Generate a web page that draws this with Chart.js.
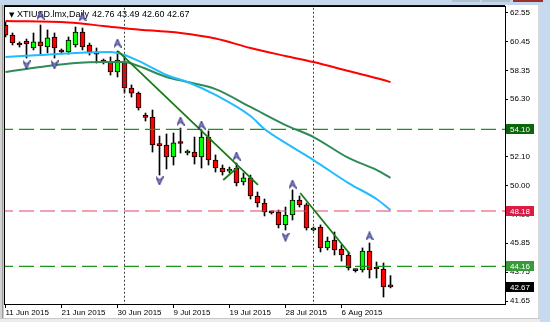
<!DOCTYPE html>
<html>
<head>
<meta charset="utf-8">
<script src="https://cdn.jsdelivr.net/npm/chart.js@4.4.1/dist/chart.umd.min.js"></script>
<style>
  html, body { margin: 0; padding: 0; background: #fff; }
  #wrap { position: relative; width: 550px; height: 322px; overflow: hidden; }
  canvas { display: block; }
</style>
</head>
<body>
<div id="wrap"><canvas id="chart" width="550" height="322"></canvas></div>
<script>
// header text
const symbolName = "XTIUSD.lmx,Daily";
const lastBarText = "42.76 43.49 42.60 42.67";

// x axis: bar index of each date label
const tickBars = [0, 8, 16, 24, 32, 40, 48];
const tickDates = ["11 Jun 2015", "21 Jun 2015", "30 Jun 2015", "9 Jul 2015", "19 Jul 2015", "28 Jul 2015", "6 Aug 2015"];

// y axis labels
const priceTicks = [41.65, 43.75, 45.85, 47.90, 50.00, 52.10, 54.20, 56.30, 58.35, 60.45, 62.55];

// daily candles, one entry per bar
const opens = [61.68, 60.95, 60.37, 60.52, 60.01, 60.45, 60.08, 60.81, 59.79, 59.72,
  60.23, 61.17, 60.23, 59.65, 59.07, 58.99, 58.27, 58.99, 57.11, 56.74,
  55.00, 55.00, 52.97, 52.97, 52.10, 53.12, 52.39, 52.46, 52.10, 53.55,
  51.88, 51.30, 51.08, 51.30, 50.29, 50.58, 49.27, 48.76, 48.11, 48.11,
  47.17, 47.89, 48.98, 48.62, 46.80, 47.02, 45.50, 46.08, 45.42, 44.99,
  43.90, 43.90, 45.28, 44.05, 43.97, 42.76];
const highs = [61.90, 61.10, 60.45, 60.66, 61.10, 61.68, 61.32, 61.10, 59.94, 60.81,
  61.53, 61.46, 60.37, 60.01, 59.21, 59.36, 59.79, 59.43, 57.33, 56.82,
  55.29, 55.51, 53.62, 53.77, 53.84, 54.20, 52.61, 53.55, 54.06, 53.99,
  52.25, 51.52, 51.37, 51.66, 50.94, 50.79, 49.56, 49.05, 48.18, 48.25,
  48.47, 49.71, 49.27, 48.76, 47.02, 47.17, 46.29, 46.66, 45.71, 45.21,
  43.97, 45.50, 45.86, 44.48, 44.41, 43.49];
const lows = [60.81, 60.23, 60.08, 59.28, 59.87, 59.57, 59.65, 59.28, 59.57, 59.57,
  60.08, 59.87, 59.50, 58.92, 58.85, 58.05, 57.91, 56.74, 56.45, 55.51,
  54.71, 52.46, 50.79, 51.23, 51.52, 52.39, 52.25, 51.59, 51.30, 51.52,
  51.01, 50.79, 50.94, 50.00, 50.07, 49.05, 48.47, 47.82, 47.96, 46.95,
  46.80, 47.53, 48.47, 46.80, 46.73, 45.21, 45.35, 44.99, 44.55, 43.90,
  43.75, 43.75, 43.32, 43.32, 41.94, 42.60];
const closes = [60.95, 60.37, 60.23, 60.30, 60.45, 60.16, 60.74, 60.01, 59.72, 60.59,
  61.17, 60.08, 59.72, 59.57, 58.99, 58.27, 59.14, 57.11, 56.74, 55.66,
  54.97, 52.97, 52.93, 52.10, 53.12, 53.08, 52.43, 52.10, 53.55, 51.88,
  51.30, 51.01, 51.16, 50.21, 50.58, 49.27, 48.76, 48.11, 48.04, 47.17,
  47.89, 48.98, 48.62, 46.95, 46.95, 45.50, 46.00, 45.35, 44.99, 44.05,
  43.86, 45.28, 43.90, 43.97, 42.67, 42.67];

// moving averages, read at some bars
const redMaBars = [0, 9, 14, 18, 25, 30, 35, 40, 44, 49, 54, 55];
const redMaValues = [61.97, 61.86, 61.61, 61.39, 61.10, 60.70, 60.01, 59.43, 58.99, 58.34, 57.69, 57.54];
const blueMaBars = [0, 5, 10, 15, 17, 19, 23, 26, 30, 35, 37, 40, 44, 49, 53, 55];
const blueMaValues = [59.36, 59.50, 59.65, 59.72, 59.50, 59.07, 58.05, 57.54, 56.60, 55.07, 54.13, 53.12, 51.88, 50.21, 49.05, 48.25];
const greenMaBars = [0, 5, 10, 14, 17, 19, 23, 26, 30, 35, 40, 44, 49, 53, 55];
const greenMaValues = [58.27, 58.63, 58.92, 58.99, 58.99, 58.70, 57.91, 57.54, 57.03, 55.73, 54.42, 53.55, 52.03, 51.16, 50.58];

// trend lines: start/end bar and price
const trend1Bars = [16.07, 36.07];
const trend1Values = [59.79, 50.07];
const trend2Bars = [31.1, 33.2];
const trend2Values = [50.43, 51.37];
const trend3Bars = [42.1, 49.2];
const trend3Values = [49.49, 45.06];

// horizontal levels
const levelPrices = [54.10, 48.18, 44.16];

// month separators (first bar of Jul and Aug)
const separatorBars = [17, 44];

// fractals
const fractalUpBars = [5, 11, 16, 25, 28, 33, 41, 52];
const fractalUpPrices = [62.40, 62.26, 60.37, 54.71, 54.42, 52.17, 50.14, 46.37];
const fractalDownBars = [3, 7, 22, 40];
const fractalDownPrices = [58.78, 58.78, 50.36, 46.29];

// ---- styles ----
const levelLineColors = ["#1c941c", "#e64066", "#1c941c"];
const levelBoxColors = ["#0b650b", "#dc1a44", "#3a9a3a"];
const upColor = "#00ff00";
const downColor = "#ff0000";

const X_MIN = -0.5 / 7;
const X_MAX = X_MIN + 500 / 7;
const Y_MIN = 41.4323;
const Y_MAX = 62.9854;

Chart.defaults.font.family = '"Liberation Sans", Arial, sans-serif';
Chart.defaults.font.size = 8;
Chart.defaults.color = "#000";

function arrowImage(up) {
  const c = document.createElement("canvas");
  c.width = 8;
  c.height = 9;
  const g = c.getContext("2d");
  g.beginPath();
  if (up) {
    g.moveTo(4, 0.5); g.lineTo(7.5, 8.5); g.lineTo(4, 5.5); g.lineTo(0.5, 8.5);
  } else {
    g.moveTo(4, 8.5); g.lineTo(7.5, 0.5); g.lineTo(4, 3.5); g.lineTo(0.5, 0.5);
  }
  g.closePath();
  g.fillStyle = "#8e8edc";
  g.fill();
  g.strokeStyle = "#24246e";
  g.lineWidth = 1;
  g.stroke();
  return c;
}

const toPoints = (xs, ys) => xs.map((x, i) => ({ x: x, y: ys[i] }));
const barIdx = opens.map((_, i) => i);

const lineSet = (data, color, width, extra) => Object.assign({
  type: "line",
  data: data,
  borderColor: color,
  borderWidth: width,
  pointRadius: 0,
  fill: false
}, extra || {});

const datasets = [
  {
    type: "scatter",
    data: toPoints(fractalUpBars, fractalUpPrices),
    pointStyle: arrowImage(true),
    pointRadius: 4
  },
  {
    type: "scatter",
    data: toPoints(fractalDownBars, fractalDownPrices),
    pointStyle: arrowImage(false),
    pointRadius: 4
  },
  lineSet(toPoints(trend1Bars, trend1Values), "#167c16", 1.8),
  lineSet(toPoints(trend2Bars, trend2Values), "#167c16", 1.8),
  lineSet(toPoints(trend3Bars, trend3Values), "#167c16", 1.8),
  lineSet(toPoints(redMaBars, redMaValues), "#ff0000", 2, { cubicInterpolationMode: "monotone" }),
  lineSet(toPoints(blueMaBars, blueMaValues), "#22bbff", 2, { cubicInterpolationMode: "monotone" }),
  lineSet(toPoints(greenMaBars, greenMaValues), "#2e8b57", 2, { cubicInterpolationMode: "monotone" })
];

levelPrices.forEach((p, k) => {
  datasets.push(lineSet([{ x: X_MIN - 1, y: p }, { x: X_MAX + 1, y: p }], levelLineColors[k], 1.2, { borderDash: [15, 6] }));
});
separatorBars.forEach(b => {
  datasets.push(lineSet([{ x: b, y: Y_MIN - 1 }, { x: b, y: Y_MAX + 1 }], "#444", 1, { borderDash: [2, 2] }));
});

// candle bodies then wicks (wicks drawn underneath)
datasets.push({
  type: "bar",
  data: barIdx.map(i => ({ x: i, y: [opens[i], closes[i]] })),
  backgroundColor: ctx => closes[ctx.dataIndex] > opens[ctx.dataIndex] ? upColor : downColor,
  borderColor: "#000",
  borderWidth: 1,
  borderSkipped: false,
  barThickness: 5,
  minBarLength: 2,
  grouped: false
});
datasets.push({
  type: "bar",
  data: barIdx.map(i => ({ x: i, y: [lows[i], highs[i]] })),
  backgroundColor: "#000",
  borderWidth: 0,
  barThickness: 1,
  minBarLength: 1,
  grouped: false
});

const framePlugin = {
  id: "frame",
  beforeDraw(chart) {
    const c = chart.ctx;
    c.save();
    // top strip
    c.fillStyle = "#c3d7ed";
    c.fillRect(0, 0, 550, 5);
    c.fillStyle = "#b4bfcc";
    c.fillRect(452, 0, 28, 2);
    c.fillRect(482, 0, 28, 2);
    c.fillStyle = "#9a3030";
    c.fillRect(513, 0, 30, 2);
    c.fillStyle = "#111";
    c.fillRect(4, 5, 501, 2);
    // left edge
    c.fillStyle = "#d2d2d2";
    c.fillRect(0, 5, 2, 317);
    c.fillStyle = "#9c9c9c";
    c.fillRect(2, 5, 1.5, 317);
    // right edge
    c.fillStyle = "#d8d8d8";
    c.fillRect(538, 5, 2, 317);
    c.fillStyle = "#c7dbf0";
    c.fillRect(540, 5, 10, 317);
    // bottom edge
    c.fillStyle = "#c8c8c8";
    c.fillRect(0, 318, 540, 1);
    c.fillStyle = "#ececec";
    c.fillRect(0, 319, 540, 3);
    c.restore();
  },
  beforeDatasetsDraw(chart) {
    const c = chart.ctx;
    c.save();
    c.fillStyle = "#000";
    c.textBaseline = "middle";
    c.font = '7px "DejaVu Sans"';
    c.fillText("\u25BC", 9, 15);
    c.font = '9px "Liberation Sans", Arial, sans-serif';
    c.fillText(symbolName, 17, 15);
    c.fillText(lastBarText, 92, 15);
    c.restore();
  },
  afterDraw(chart) {
    const c = chart.ctx;
    const a = chart.chartArea;
    const y = chart.scales.y;
    c.save();
    c.strokeStyle = "#000";
    c.lineWidth = 1;
    c.strokeRect(a.left - 0.5, a.top - 0.5, a.right - a.left + 1, a.bottom - a.top + 1);
    c.font = '8px "Liberation Sans", Arial, sans-serif';
    c.textBaseline = "middle";
    const boxes = levelPrices.map((p, k) => [p, levelBoxColors[k]]);
    boxes.push([closes[closes.length - 1], "#000"]);
    boxes.forEach(([p, col]) => {
      const py = Math.round(y.getPixelForValue(p));
      c.fillStyle = col;
      c.fillRect(506, py - 5, 28, 10);
      c.fillStyle = "#fff";
      c.fillText(p.toFixed(2), 510, py + 0.5);
    });
    c.restore();
  }
};

new Chart(document.getElementById("chart"), {
  type: "bar",
  data: { datasets: datasets },
  options: {
    responsive: false,
    animation: false,
    events: [],
    layout: { padding: { left: 5, top: 7, right: 0, bottom: 0 } },
    plugins: { legend: { display: false }, tooltip: { enabled: false } },
    scales: {
      x: {
        type: "linear",
        min: X_MIN,
        max: X_MAX,
        offset: false,
        bounds: "data",
        grid: { display: true, drawOnChartArea: false, drawTicks: true, tickLength: 4, color: "#000", offset: false },
        border: { display: false },
        ticks: {
          autoSkip: false,
          maxRotation: 0,
          align: "start",
          padding: 0,
          callback: v => tickDates[tickBars.indexOf(v)] || ""
        },
        afterBuildTicks: s => { s.ticks = tickBars.map(v => ({ value: v })); },
        afterFit: s => { s.height = 18; }
      },
      y: {
        type: "linear",
        position: "right",
        min: Y_MIN,
        max: Y_MAX,
        bounds: "data",
        grid: { display: true, drawOnChartArea: false, drawTicks: true, tickLength: 3, color: "#000" },
        border: { display: false },
        ticks: {
          autoSkip: false,
          padding: 2,
          callback: v => Number(v).toFixed(2)
        },
        afterBuildTicks: s => { s.ticks = priceTicks.map(v => ({ value: v })); },
        afterFit: s => { s.width = 45; }
      }
    }
  },
  plugins: [framePlugin]
});
</script>
</body>
</html>
